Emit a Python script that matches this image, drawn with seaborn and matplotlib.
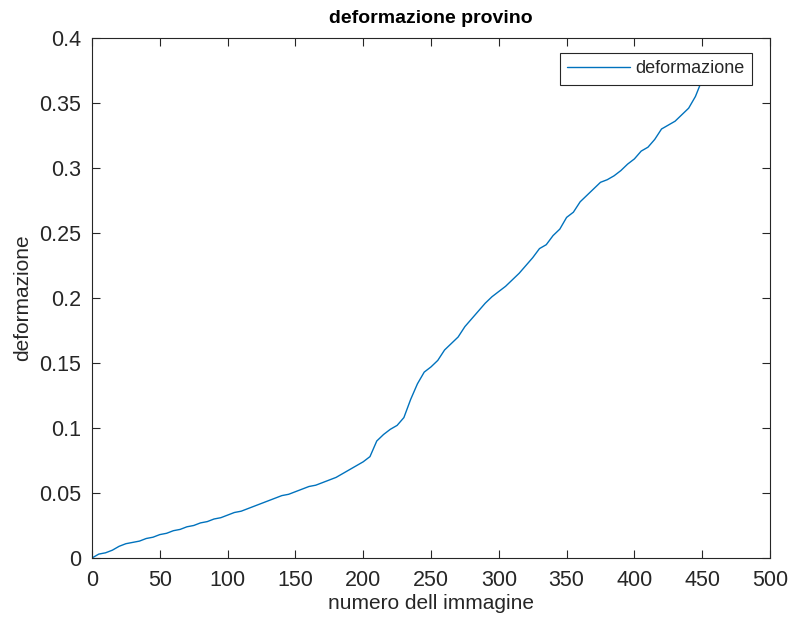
import matplotlib
matplotlib.use("Agg")
import matplotlib.pyplot as plt
import seaborn as sns
import pandas as pd

# image index and measured specimen strain
immagine = list(range(0, 460, 5))
deformazione = [
    0.000, 0.003, 0.004, 0.006, 0.009, 0.011, 0.012, 0.013, 0.015, 0.016,
    0.018, 0.019, 0.021, 0.022, 0.024, 0.025, 0.027, 0.028, 0.030, 0.031,
    0.033, 0.035, 0.036, 0.038, 0.040, 0.042, 0.044, 0.046, 0.048, 0.049,
    0.051, 0.053, 0.055, 0.056, 0.058, 0.060, 0.062, 0.065, 0.068, 0.071,
    0.074, 0.078, 0.090, 0.095, 0.099, 0.102, 0.108, 0.122, 0.134, 0.143,
    0.147, 0.152, 0.160, 0.165, 0.170, 0.178, 0.184, 0.190, 0.196, 0.201,
    0.205, 0.209, 0.214, 0.219, 0.225, 0.231, 0.238, 0.241, 0.248, 0.253,
    0.262, 0.266, 0.274, 0.279, 0.284, 0.289, 0.291, 0.294, 0.298, 0.303,
    0.307, 0.313, 0.316, 0.322, 0.330, 0.333, 0.336, 0.341, 0.346, 0.355,
    0.368, 0.380,
]
x_ticks = [0, 50, 100, 150, 200, 250, 300, 350, 400, 450, 500]
y_ticks = [0, 0.05, 0.1, 0.15, 0.2, 0.25, 0.3, 0.35, 0.4]
y_tick_labels = ["0", "0.05", "0.1", "0.15", "0.2", "0.25", "0.3", "0.35", "0.4"]

df = pd.DataFrame({"immagine": immagine, "deformazione": deformazione})

sns.set_theme(style="white")
plt.rcParams["font.family"] = ["Liberation Sans", "DejaVu Sans"]
dark = "#262626"

fig = plt.figure(figsize=(7.92, 6.41), dpi=100)
ax = fig.add_axes([92 / 792, 83 / 641, 678 / 792, 520 / 641])

sns.lineplot(data=df, x="immagine", y="deformazione", ax=ax,
             color="#0072BD", linewidth=1.0, label="deformazione")

ax.set_xlim(0, 500)
ax.set_ylim(0, 0.4)
ax.set_xticks(x_ticks)
ax.set_xticklabels([str(t) for t in x_ticks])
ax.set_yticks(y_ticks)
ax.set_yticklabels(y_tick_labels)
ax.tick_params(axis="both", which="both", direction="in", length=6, width=0.8,
               colors=dark, labelsize=15.5, top=True, right=True,
               bottom=True, left=True)
ax.tick_params(axis="x", pad=9)
ax.tick_params(axis="y", pad=8)
for side in ax.spines.values():
    side.set_visible(True)
    side.set_color(dark)
    side.set_linewidth(0.8)

ax.set_xlabel("numero dell immagine", fontsize=15, color=dark, labelpad=2)
ax.set_ylabel("deformazione", fontsize=15, color=dark, labelpad=5)
ax.set_title("deformazione provino", fontsize=14, fontweight="bold",
             color="black", pad=11)

leg = ax.legend(loc="upper right", bbox_to_anchor=(0.9735, 0.9710),
                fontsize=13, frameon=True, fancybox=False, framealpha=1.0,
                edgecolor=dark, handlelength=3.5, handletextpad=0.3,
                borderpad=0.4, borderaxespad=0.0)
leg.get_frame().set_linewidth(0.8)
leg.set_zorder(5)

fig.savefig("out.png", dpi=100, facecolor="white")
